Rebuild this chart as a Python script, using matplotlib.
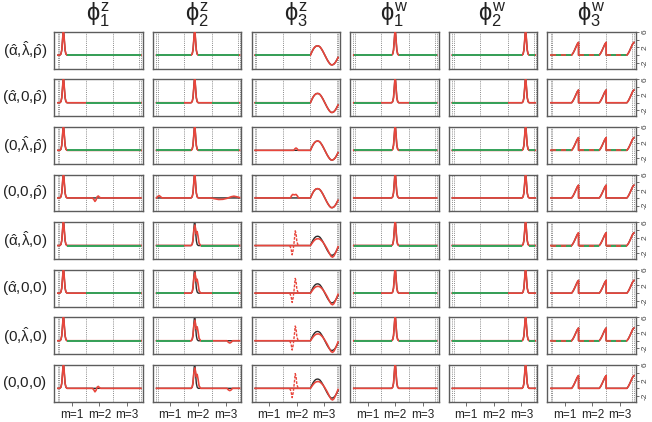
import matplotlib
matplotlib.use('Agg')
import matplotlib.pyplot as plt

plt.rcParams['mathtext.fontset'] = 'custom'
plt.rcParams['mathtext.rm'] = 'Liberation Sans'
plt.rcParams['mathtext.it'] = 'Liberation Sans'
plt.rcParams['mathtext.sf'] = 'Liberation Sans'
plt.rcParams['font.family'] = ['Liberation Sans', 'DejaVu Sans']

# ---------------- labels ----------------
col_titles = [r'$\phi^{z}_{1}$', r'$\phi^{z}_{2}$', r'$\phi^{z}_{3}$',
              r'$\phi^{w}_{1}$', r'$\phi^{w}_{2}$', r'$\phi^{w}_{3}$']
row_labels = [r'$(\hat{\alpha}{,}\hat{\lambda}{,}\hat{\rho})$',
              r'$(\hat{\alpha}{,}0{,}\hat{\rho})$',
              r'$(0{,}\hat{\lambda}{,}\hat{\rho})$',
              r'$(0{,}0{,}\hat{\rho})$',
              r'$(\hat{\alpha}{,}\hat{\lambda}{,}0)$',
              r'$(\hat{\alpha}{,}0{,}0)$',
              r'$(0{,}\hat{\lambda}{,}0)$',
              r'$(0{,}0{,}0)$']
seg_labels = ['m=1', 'm=2', 'm=3']
seg_pos = [0.5, 1.5, 2.5]
boundaries = [-0.01, 0.05, 1.0, 2.0, 2.95, 3.01]
yticks = [-2, 0, 2, 4, 6]
ytick_labels = ['-2', '', '2', '', '6']

# ---------------- true functions ----------------
peak_dx = [-0.13, -0.09, -0.06, -0.035, -0.015, 0.0, 0.015, 0.035, 0.06, 0.09, 0.13]
peak_y = [0.0, 0.3, 1.3, 3.6, 5.6, 6.4, 5.6, 3.6, 1.3, 0.3, 0.0]
peak_centers = {0: 0.2, 1: 1.38, 3: 1.5, 4: 2.65}

sine_x = [2.0, 2.05, 2.1, 2.15, 2.2, 2.25, 2.3, 2.35, 2.4, 2.45, 2.5,
          2.55, 2.6, 2.65, 2.7, 2.75, 2.8, 2.85, 2.9, 2.95, 3.0]
sine_y = [0.0, 0.8, 1.5, 2.0, 2.3, 2.4, 2.35, 2.1, 1.6, 1.0, 0.3,
          -0.4, -1.1, -1.7, -2.2, -2.5, -2.5, -2.3, -1.9, -1.3, -0.6]
sine_est_y = [0.0, 0.5, 1.0, 1.4, 1.65, 1.75, 1.75, 1.6, 1.3, 0.9, 0.4,
              -0.2, -0.8, -1.5, -2.2, -2.8, -3.0, -2.7, -2.0, -1.2, -0.3]

ramp_dx = [0.0, 0.75, 0.8, 0.85, 0.9, 0.95, 0.999]
ramp_y = [0.0, 0.0, 0.5, 1.2, 2.0, 2.8, 3.3]


def truth(c):
    if c in peak_centers:
        m = peak_centers[c]
        xs = [0.0] + [m + d for d in peak_dx] + [3.0]
        ys = [0.0] + peak_y + [0.0]
        return xs, ys
    if c == 2:
        return [0.0] + sine_x, [0.0] + sine_y
    xs, ys = [], []
    for s in (0.0, 1.0, 2.0):
        xs += [s + d for d in ramp_dx]
        ys += list(ramp_y)
    return xs + [3.0], ys + [3.3]


def replace(xs, ys, rx, ry):
    a, b = rx[0], rx[-1]
    nx = [x for x in xs if x < a] + list(rx) + [x for x in xs if x > b]
    ny = [y for x, y in zip(xs, ys) if x < a] + list(ry) + [y for x, y in zip(xs, ys) if x > b]
    return nx, ny

# ---------------- estimate deviations ----------------
wig1_x = [1.25, 1.3, 1.34, 1.38, 1.42, 1.46, 1.5, 1.55]
wig1_y = [0.0, -0.4, -0.9, -0.5, 0.3, 0.5, 0.2, 0.0]
start_bump_x = [0.0, 0.05, 0.1, 0.15, 0.2]
start_bump_y = [0.0, 0.4, 0.6, 0.3, 0.0]
tail_x = [1.95, 2.1, 2.25, 2.4, 2.55, 2.7, 2.8, 2.9, 3.0]
tail_y = [0.0, -0.2, -0.4, -0.35, -0.1, 0.3, 0.45, 0.3, 0.1]
dip_x = [2.55, 2.6, 2.65, 2.7, 2.75]
dip_y = [0.0, -0.4, -0.6, -0.4, 0.0]
dbl_x = [1.25, 1.29, 1.32, 1.35, 1.39, 1.42, 1.44, 1.47, 1.5, 1.54, 1.6]
dbl_y = [0.0, 0.3, 1.5, 4.0, 5.3, 3.8, 3.0, 3.6, 2.5, 0.6, 0.0]
small_bump_x = [1.4, 1.44, 1.48, 1.52, 1.56]
small_bump_y = [0.0, 0.4, 0.6, 0.4, 0.0]
flat_bump_x = [1.28, 1.32, 1.36, 1.42, 1.48, 1.53, 1.57]
flat_bump_y = [0.0, 0.6, 0.9, 0.8, 0.9, 0.5, 0.0]
wig3_x = [1.25, 1.3, 1.34, 1.38, 1.42, 1.45, 1.48, 1.51, 1.55, 1.6]
wig3_y = [0.0, -0.8, -2.4, -1.0, 1.5, 3.8, 3.2, 1.0, 0.2, 0.0]

# solid replacements per (row, col)
mods = {
    (3, 0): [(wig1_x, wig1_y)],
    (7, 0): [(wig1_x, wig1_y)],
    (3, 1): [(start_bump_x, start_bump_y), (tail_x, tail_y)],
    (4, 1): [(dbl_x, dbl_y)],
    (5, 1): [(dbl_x, dbl_y)],
    (6, 1): [(dbl_x, dbl_y), (dip_x, dip_y)],
    (7, 1): [(dbl_x, dbl_y), (dip_x, dip_y)],
    (2, 2): [(small_bump_x, small_bump_y)],
    (3, 2): [(flat_bump_x, flat_bump_y)],
}
for r in (4, 5, 6, 7):
    mods[(r, 2)] = [(sine_x, sine_est_y)]
dashed_extra = {(r, 2): (wig3_x, wig3_y) for r in (4, 5, 6, 7)}

# ranges where the estimate is exactly zero (green)
p0 = [(0.33, 3.0)]
g1 = [(0.0, 1.0), (2.0, 3.0)]
green = {
    (0, 0): p0, (1, 0): [(1.0, 3.0)], (2, 0): p0, (4, 0): p0,
    (5, 0): [(1.0, 3.0)], (6, 0): p0,
    (0, 1): [(0.0, 1.25), (1.51, 3.0)], (1, 1): g1,
    (2, 1): [(0.0, 1.25), (1.51, 3.0)], (4, 1): [(0.0, 1.0), (1.6, 3.0)],
    (5, 1): g1, (6, 1): [(0.0, 1.22), (1.6, 2.05)],
    (0, 2): [(0.0, 2.0)], (1, 2): [(0.0, 2.0)],
    (0, 3): [(0.0, 1.37), (1.63, 3.0)], (1, 3): g1,
    (2, 3): [(0.0, 1.37), (1.63, 3.0)], (4, 3): [(0.0, 1.37), (1.63, 3.0)],
    (5, 3): g1, (6, 3): [(0.0, 1.37), (1.63, 3.0)],
    (0, 4): [(0.0, 2.52), (2.78, 3.0)], (1, 4): [(0.0, 2.0)],
    (2, 4): [(0.0, 2.52), (2.78, 3.0)], (4, 4): [(0.0, 2.52), (2.78, 3.0)],
    (5, 4): [(0.0, 2.0)], (6, 4): [(0.0, 2.52), (2.78, 3.0)],
}
mixed_flats = [(0.0, 0.75), (1.0, 1.75), (2.0, 2.75)]
for r in (0, 2, 4, 6):
    green[(r, 5)] = mixed_flats

# ---------------- styling ----------------
RED = '#e8463c'
GREEN = '#27a85a'
BLACK = '#2a2a2a'
FRAME = '#5c5c5c'
GRID = '#8a8a8a'

W, H = 652.0, 422.0
fig = plt.figure(figsize=(W / 100, H / 100), dpi=100)

col_left0, col_pitch, col_w = 54.3, 98.6, 88.5
row_top0, row_pitch, row_h = 31.7, 47.6, 36.8

for r in range(8):
    for c in range(6):
        left = col_left0 + c * col_pitch
        top = row_top0 + r * row_pitch
        ax = fig.add_axes([left / W, 1 - (top + row_h) / H, col_w / W, row_h / H])
        ax.set_xlim(-0.13, 3.07)
        ax.set_ylim(-3.45, 6.05)
        for b in boundaries:
            ax.axvline(b, color=GRID, lw=0.7, ls=(0, (1, 1.2)), zorder=1)
        tx, ty = truth(c)
        ax.plot(tx, ty, color=BLACK, lw=1.0, zorder=2)
        ex, ey = tx, ty
        for rx, ry in mods.get((r, c), []):
            ex, ey = replace(ex, ey, rx, ry)
        ax.plot(ex, ey, color=RED, lw=1.2, zorder=3)
        if (r, c) in dashed_extra:
            dx, dy = dashed_extra[(r, c)]
            ax.plot(dx, dy, color=RED, lw=1.0, ls=(0, (2, 1)), zorder=3)
        is_mixed = (c == 5)
        for a, b in green.get((r, c), []):
            ax.plot([a, b], [0, 0], color=GREEN, lw=1.3, zorder=4,
                    solid_capstyle='butt')
            if is_mixed:
                ax.plot([a, b], [0, 0], color=RED, lw=1.2, zorder=5,
                        ls=(0, (3, 3)))
        for sp in ax.spines.values():
            sp.set_color(FRAME)
            sp.set_linewidth(1.0)
        ax.set_xticks([])
        ax.set_yticks([])
        if c == 5:
            ax.yaxis.tick_right()
            ax.set_yticks(yticks)
            ax.set_yticklabels(ytick_labels, rotation=90, va='center',
                               fontsize=6, color='#444444')
            ax.tick_params(axis='y', length=2.5, width=0.6, pad=1.5,
                           color='#555555')
        if r == 7:
            ax.set_xticks(seg_pos)
            ax.set_xticklabels(seg_labels, fontsize=8.5, color='#222222')
            ax.tick_params(axis='x', length=3, width=0.6, pad=2,
                           color='#555555')
        if r == 0:
            fig.text((left + col_w / 2) / W, 1 - 15 / H, col_titles[c],
                     fontsize=17, ha='center', va='center', color='#222222')
    fig.text(25 / W, 1 - (row_top0 + r * row_pitch + row_h / 2) / H,
             row_labels[r], fontsize=11, ha='center', va='center',
             color='#222222')

fig.savefig('out.png', dpi=100)
